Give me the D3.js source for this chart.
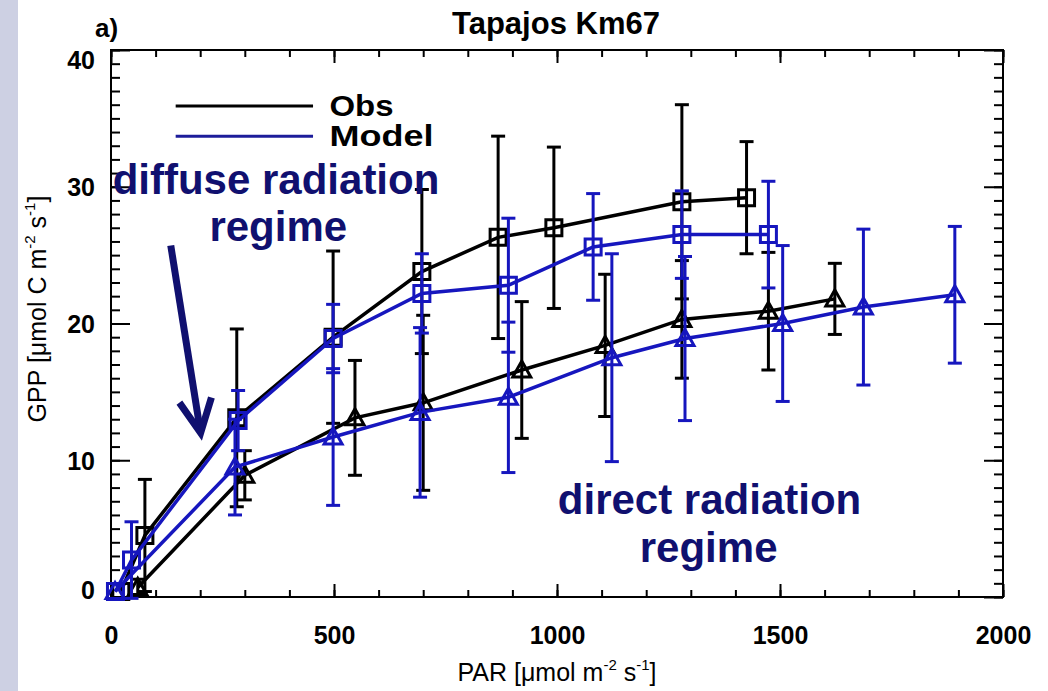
<!DOCTYPE html>
<html>
<head>
<meta charset="utf-8">
<script src="https://cdn.jsdelivr.net/npm/d3@7"></script>
<style>
  body { margin: 0; background: #fff; }
  svg { display: block; font-family: "Liberation Sans", Arial, Helvetica, sans-serif; }
</style>
</head>
<body>
<div id="chart"></div>
<script>
// values: PAR [umol m-2 s-1], GPP [umol C m-2 s-1], +/- error
const obsDiffusePar = [22, 76, 282, 498, 697, 868, 993, 1280, 1425];
const obsDiffuseGpp = [0.4, 4.5, 13.1, 19.0, 23.8, 26.3, 27.0, 28.9, 29.2];
const obsDiffuseErr = [0, 4.1, 6.5, 6.3, 6.0, 7.4, 5.9, 7.1, 4.1];

const modelDiffusePar = [10, 46, 285, 498, 697, 891, 1081, 1280, 1474];
const modelDiffuseGpp = [0.4, 2.7, 12.9, 18.9, 22.2, 22.8, 25.6, 26.5, 26.5];
const modelDiffuseErr = [0, 2.8, 2.2, 2.5, 2.9, 4.9, 3.9, 3.2, 3.9];

const obsDirectPar = [60, 300, 547, 700, 921, 1108, 1280, 1474, 1623];
const obsDirectGpp = [0.7, 8.9, 13.1, 14.2, 16.6, 18.4, 20.3, 20.9, 21.8];
const obsDirectErr = [0.6, 1.8, 4.2, 6.4, 5.0, 5.2, 4.3, 4.3, 2.6];

const modelDirectPar = [9, 278, 498, 693, 891, 1123, 1287, 1506, 1687, 1892];
const modelDirectGpp = [0.4, 9.5, 11.7, 13.5, 14.6, 17.5, 18.9, 20.0, 21.2, 22.1];
const modelDirectErr = [0, 3.5, 5.0, 6.2, 5.5, 7.6, 6.0, 5.7, 5.7, 5.0];

const xMajor = [0, 500, 1000, 1500, 2000];
const yMajor = [0, 10, 20, 30, 40];

const BLACK = "#000";
const BLUE = "#1616be";
const NAVY = "#10106f";

const margin = {top: 50, right: 45, bottom: 94, left: 111};
const width = 1048 - margin.left - margin.right;
const height = 691 - margin.top - margin.bottom;

const svg = d3.select("#chart")
  .append("svg")
  .attr("width", 1048)
  .attr("height", 691);

// lavender strip at the left edge of the slide
svg.append("rect").attr("x", 0).attr("y", 0).attr("width", 18).attr("height", 691).attr("fill", "#cdd0e3");

const g = svg.append("g").attr("transform", `translate(${margin.left},${margin.top})`);

const x = d3.scaleLinear().domain([0, 2000]).range([0, width]);
const y = d3.scaleLinear().domain([0, 40]).range([height, 0]);

// axes, ticks point inwards on all four sides
function styleAxis(sel) {
  sel.select(".domain").remove();
  sel.selectAll("line").attr("stroke", "#000").attr("stroke-width", 2);
}

g.append("g").attr("transform", `translate(0,${height})`)
  .call(d3.axisBottom(x).tickValues(d3.range(0, 2001, 100)).tickSize(-7).tickFormat(""))
  .call(styleAxis);
g.append("g").attr("transform", `translate(0,${height})`)
  .call(d3.axisBottom(x).tickValues(xMajor).tickSize(-13).tickPadding(29).tickFormat(d3.format("d")))
  .call(styleAxis)
  .attr("font-family", null).attr("font-size", 25).attr("font-weight", "bold");

g.append("g")
  .call(d3.axisTop(x).tickValues(d3.range(0, 2001, 100)).tickSize(-7).tickFormat(""))
  .call(styleAxis);
g.append("g")
  .call(d3.axisTop(x).tickValues(xMajor).tickSize(-13).tickFormat(""))
  .call(styleAxis);

g.append("g")
  .call(d3.axisLeft(y).tickValues(d3.range(0, 41, 1)).tickSize(-9).tickFormat(""))
  .call(styleAxis);
const yAx = g.append("g")
  .call(d3.axisLeft(y).tickValues(yMajor).tickSize(-19).tickPadding(16))
  .call(styleAxis)
  .attr("font-family", null).attr("font-size", 25).attr("font-weight", "bold");
yAx.selectAll("text").attr("dy", d => d === 40 ? "0.72em" : d === 0 ? "0.05em" : "0.36em");

g.append("g").attr("transform", `translate(${width},0)`)
  .call(d3.axisRight(y).tickValues(d3.range(0, 41, 1)).tickSize(-9).tickFormat(""))
  .call(styleAxis);
g.append("g").attr("transform", `translate(${width},0)`)
  .call(d3.axisRight(y).tickValues(yMajor).tickSize(-19).tickFormat(""))
  .call(styleAxis);

// plot frame
g.append("rect")
  .attr("width", width).attr("height", height)
  .attr("fill", "none").attr("stroke", "#000").attr("stroke-width", 2);

// axis titles
const xLab = g.append("text")
  .attr("x", 446).attr("y", height + 84)
  .attr("text-anchor", "middle").attr("font-size", 25);
xLab.append("tspan").text("PAR [\u03bcmol m");
xLab.append("tspan").attr("font-size", 15).attr("dy", -11).text("-2");
xLab.append("tspan").attr("dy", 11).text(" s");
xLab.append("tspan").attr("font-size", 15).attr("dy", -11).text("-1");
xLab.append("tspan").attr("dy", 11).text("]");

const yLab = g.append("text")
  .attr("transform", `translate(-65,259) rotate(-90)`)
  .attr("text-anchor", "middle").attr("font-size", 25);
yLab.append("tspan").text("GPP [\u03bcmol C m");
yLab.append("tspan").attr("font-size", 15).attr("dy", -11).text("-2");
yLab.append("tspan").attr("dy", 11).text(" s");
yLab.append("tspan").attr("font-size", 15).attr("dy", -11).text("-1");
yLab.append("tspan").attr("dy", 11).text("]");

svg.append("text").attr("x", 556).attr("y", 34)
  .attr("text-anchor", "middle").attr("font-size", 31).attr("font-weight", "bold")
  .text("Tapajos Km67");
svg.append("text").attr("x", 95).attr("y", 37)
  .attr("font-size", 26).attr("font-weight", "bold")
  .text("a)");

// series
const series = [
  {par: obsDiffusePar, gpp: obsDiffuseGpp, err: obsDiffuseErr, color: BLACK, sym: "square"},
  {par: obsDirectPar, gpp: obsDirectGpp, err: obsDirectErr, color: BLACK, sym: "triangle"},
  {par: modelDiffusePar, gpp: modelDiffuseGpp, err: modelDiffuseErr, color: BLUE, sym: "square"},
  {par: modelDirectPar, gpp: modelDirectGpp, err: modelDirectErr, color: BLUE, sym: "triangle"}
];

const line = d3.line().x(d => x(d.par)).y(d => y(d.gpp));

series.forEach(s => {
  const pts = s.par.map((p, i) => ({par: p, gpp: s.gpp[i], err: s.err[i]}));
  const sg = g.append("g");

  sg.append("path").datum(pts)
    .attr("d", line)
    .attr("fill", "none").attr("stroke", s.color).attr("stroke-width", 3.5);

  const eb = sg.selectAll(".eb").data(pts.filter(d => d.err > 0)).join("g");
  eb.append("line")
    .attr("x1", d => x(d.par)).attr("x2", d => x(d.par))
    .attr("y1", d => y(d.gpp - d.err)).attr("y2", d => y(d.gpp + d.err))
    .attr("stroke", s.color).attr("stroke-width", 3);
  [-1, 1].forEach(sign => {
    eb.append("line")
      .attr("x1", d => x(d.par) - 7).attr("x2", d => x(d.par) + 7)
      .attr("y1", d => y(d.gpp + sign * d.err)).attr("y2", d => y(d.gpp + sign * d.err))
      .attr("stroke", s.color).attr("stroke-width", 3);
  });

  const sym = s.sym === "square" ? "M-8,-8H8V8H-8Z" : "M0,-9L9,7H-9Z";
  sg.selectAll(".mk").data(pts).join("path")
    .attr("transform", d => `translate(${x(d.par)},${y(d.gpp)})`)
    .attr("d", sym)
    .attr("fill", "none").attr("stroke", s.color).attr("stroke-width", 3);
});

// legend
const legend = [
  {label: "Obs", color: BLACK, gpp: 35.9, len: 64},
  {label: "Model", color: "#1c1c9a", gpp: 33.7, len: 104}
];
legend.forEach(l => {
  g.append("line")
    .attr("x1", x(145)).attr("x2", x(453))
    .attr("y1", y(l.gpp)).attr("y2", y(l.gpp))
    .attr("stroke", l.color).attr("stroke-width", 3);
  g.append("text")
    .attr("x", x(490)).attr("y", y(l.gpp) + 10)
    .attr("font-size", 29).attr("font-weight", "bold")
    .attr("textLength", l.len).attr("lengthAdjust", "spacingAndGlyphs")
    .text(l.label);
});

// annotations
const notes = [
  {text: "diffuse radiation", par: 370, gpp: 29.5},
  {text: "regime", par: 375, gpp: 26.0},
  {text: "direct radiation", par: 1342, gpp: 6.1},
  {text: "regime", par: 1340, gpp: 2.55}
];
g.selectAll(".note").data(notes).join("text")
  .attr("x", d => x(d.par)).attr("y", d => y(d.gpp))
  .attr("text-anchor", "middle")
  .attr("font-size", 42).attr("font-weight", "bold")
  .attr("fill", NAVY)
  .text(d => d.text);

// arrow pointing at the diffuse curves
const arrowFrom = {par: 134, gpp: 25.7};
const arrowTo = {par: 201, gpp: 12.0};
const ax0 = x(arrowFrom.par), ay0 = y(arrowFrom.gpp);
const ax1 = x(arrowTo.par), ay1 = y(arrowTo.gpp);
const ang = Math.atan2(ay0 - ay1, ax0 - ax1);
const headLen = 37, spread = 26 * Math.PI / 180;
g.append("line")
  .attr("x1", ax0).attr("y1", ay0).attr("x2", ax1).attr("y2", ay1)
  .attr("stroke", NAVY).attr("stroke-width", 7);
g.append("path")
  .attr("d", `M${ax1 + headLen * Math.cos(ang - spread)},${ay1 + headLen * Math.sin(ang - spread)}` +
             `L${ax1},${ay1}` +
             `L${ax1 + headLen * Math.cos(ang + spread)},${ay1 + headLen * Math.sin(ang + spread)}`)
  .attr("fill", "none").attr("stroke", NAVY).attr("stroke-width", 7)
  .attr("stroke-linejoin", "miter");
</script>
</body>
</html>
